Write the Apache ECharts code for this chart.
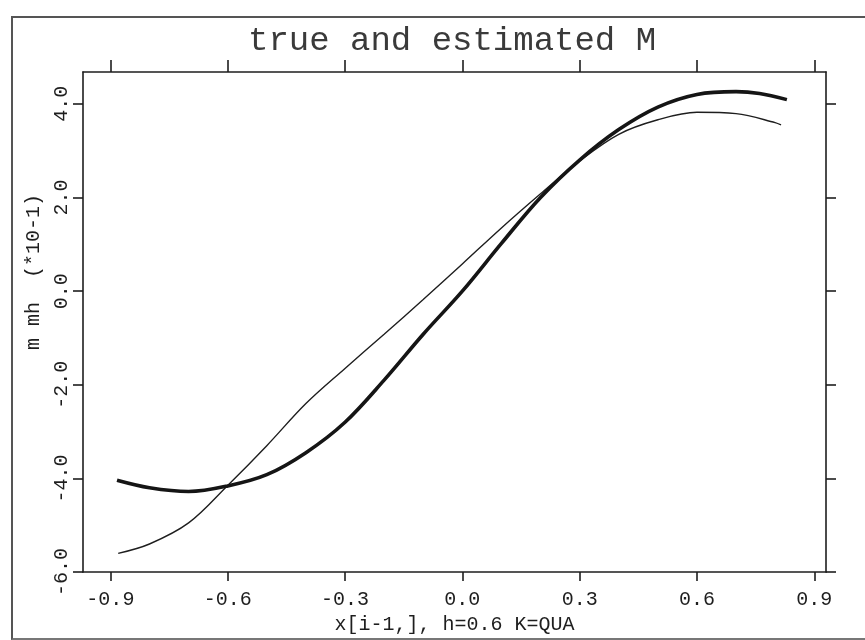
<!DOCTYPE html>
<html>
<head>
<meta charset="utf-8">
<script src="https://cdn.jsdelivr.net/npm/echarts@6/dist/echarts.min.js"></script>
<style>
  html, body { margin: 0; padding: 0; background: #fff; }
  #frame { position: absolute; left: 11px; top: 16px; width: 860px; height: 620px;
           border-left: 2px solid #555; border-top: 2px solid #555; border-bottom: 2px solid #777; }
  #chart { position: absolute; left: 0; top: 0; width: 865px; height: 640px; }
</style>
</head>
<body>
<div id="frame"></div>
<div id="chart"></div>
<script>
// true curve m (thin) and estimate mh (thick), values in units of 10^-1
const trueX = [-0.88, -0.8, -0.7, -0.6, -0.5, -0.4, -0.3, -0.2, -0.1, 0.0, 0.1, 0.2, 0.3, 0.4, 0.5, 0.6, 0.7, 0.8, 0.815];
const trueY = [-5.60, -5.40, -4.95, -4.15, -3.30, -2.40, -1.65, -0.92, -0.18, 0.58, 1.35, 2.08, 2.78, 3.35, 3.66, 3.82, 3.79, 3.60, 3.55];
const estX = [-0.883, -0.8, -0.7, -0.6, -0.5, -0.4, -0.3, -0.2, -0.1, 0.0, 0.1, 0.2, 0.3, 0.4, 0.5, 0.6, 0.7, 0.76, 0.83];
const estY = [-4.04, -4.20, -4.28, -4.16, -3.92, -3.45, -2.80, -1.90, -0.92, 0.00, 1.02, 2.00, 2.80, 3.45, 3.93, 4.20, 4.26, 4.22, 4.09];
const xTicks = [-0.9, -0.6, -0.3, 0.0, 0.3, 0.6, 0.9];
const yTicks = [-6, -4, -2, 0, 2, 4];

const ink = "#1e1e1e";
const font = "Liberation Mono";

const chart = echarts.init(document.getElementById("chart"));

const axisLine = { show: true, onZero: false, lineStyle: { color: ink, width: 1.6 } };
const tickStyle = { color: ink, width: 1.6 };

const option = {
  animation: false,
  backgroundColor: "transparent",
  title: {
    text: "true and estimated M",
    left: 243,
    top: 19,
    textStyle: { fontFamily: font, fontSize: 34, fontWeight: "normal", color: "#3a3a3a" }
  },
  grid: { left: 83, right: 39, top: 72, bottom: 66 },
  xAxis: [
    {
      type: "value",
      min: -0.97,
      max: 0.93,
      position: "bottom",
      name: "x[i-1,], h=0.6 K=QUA",
      nameLocation: "middle",
      nameGap: 42,
      nameTextStyle: { fontFamily: font, fontSize: 20, color: ink },
      axisLine: axisLine,
      splitLine: { show: false },
      axisTick: { show: true, inside: false, length: 9, customValues: xTicks, lineStyle: tickStyle },
      axisLabel: {
        customValues: xTicks,
        margin: 18,
        fontFamily: font,
        fontSize: 20,
        color: ink,
        formatter: v => v.toFixed(1)
      }
    },
    {
      type: "value",
      min: -0.97,
      max: 0.93,
      position: "top",
      axisLine: axisLine,
      splitLine: { show: false },
      axisTick: { show: true, inside: false, length: 12, customValues: xTicks, lineStyle: tickStyle },
      axisLabel: { show: false }
    }
  ],
  yAxis: [
    {
      type: "value",
      min: -6,
      max: 4.68,
      position: "left",
      name: "m mh  (*10-1)",
      nameLocation: "middle",
      nameRotate: 90,
      nameGap: 38,
      nameTextStyle: { fontFamily: font, fontSize: 20, color: ink, padding: [0, 0, 0, 100] },
      axisLine: axisLine,
      splitLine: { show: false },
      axisTick: { show: true, inside: false, length: 10, customValues: yTicks, lineStyle: tickStyle },
      axisLabel: {
        customValues: yTicks,
        rotate: 90,
        margin: 11,
        fontFamily: font,
        fontSize: 20,
        color: ink,
        formatter: v => v.toFixed(1)
      }
    },
    {
      type: "value",
      min: -6,
      max: 4.68,
      position: "right",
      axisLine: axisLine,
      splitLine: { show: false },
      axisTick: { show: true, inside: false, length: 10, customValues: yTicks, lineStyle: tickStyle },
      axisLabel: { show: false }
    }
  ],
  series: [
    {
      name: "m",
      type: "line",
      data: trueX.map((x, i) => [x, trueY[i]]),
      smooth: 0.35,
      showSymbol: false,
      lineStyle: { color: ink, width: 1.4 }
    },
    {
      name: "mh",
      type: "line",
      data: estX.map((x, i) => [x, estY[i]]),
      smooth: 0.35,
      showSymbol: false,
      lineStyle: { color: "#151515", width: 3.6 }
    }
  ]
};

chart.setOption(option);
</script>
</body>
</html>
